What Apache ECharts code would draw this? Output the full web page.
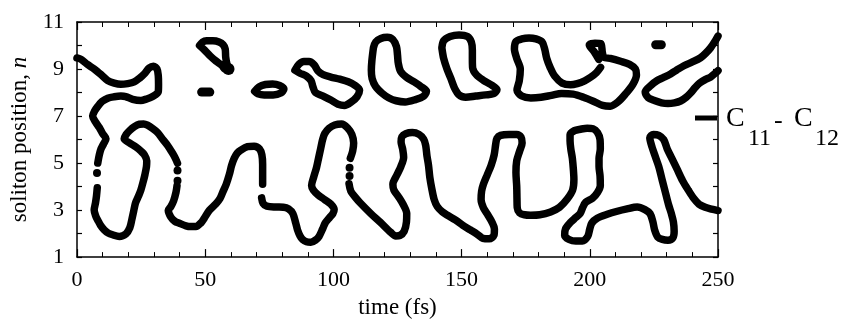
<!DOCTYPE html>
<html>
<head>
<meta charset="utf-8">
<script src="https://cdn.jsdelivr.net/npm/echarts@6/dist/echarts.min.js"></script>
<style>html,body{margin:0;padding:0;background:#fff}#c{width:842px;height:324px}</style>
</head>
<body>
<div id="c"></div>
<script>
// ---- data (time in fs, soliton position n) ----
const xTickLabels = [0, 50, 100, 150, 200, 250];
const yTickLabels = [1, 3, 5, 7, 9, 11];
const seriesName = 'C11 - C12';

// long continuous contour (null = gap)
const mainCurve = [
[0,9.47],[1.6,9.41],[4,9.2],[6.7,9.0],[9.5,8.75],[12,8.51],[14.5,8.4],[17.1,8.35],[19.8,8.38],[22.3,8.45],[24.5,8.62],[26.2,8.79],[28.2,9.05],[29.8,9.12],[31.2,9.0],[31.7,8.72],[31.8,8.35],[31.7,8.03],[29.5,7.83],[27,7.72],[24.9,7.66],[21.7,7.71],[19,7.83],[17.1,7.85],[14.5,7.82],[12,7.76],[9.8,7.62],[8.1,7.41],[6.8,7.2],[6.1,7.0],[7.2,6.75],[8.7,6.51],[10,6.25],[11.3,6.03],[10.3,5.8],[9.4,5.61],[8.7,5.35],[8.1,5.0],
null,
[7.9,3.95],[7.6,3.6],[7.2,3.3],[6.7,3.0],[7.3,2.75],[8.1,2.57],[9.2,2.35],[10.6,2.16],[12.2,2.02],[13.9,1.95],[16.5,1.88],[19.1,1.99],[20.6,2.25],[21.4,2.6],[22.1,2.95],[22.8,3.3],[24.0,3.6],[24.9,3.85],[25.8,4.2],[26.5,4.51],[27.1,4.85],[27.2,5.1],[26.3,5.35],[25.0,5.5],[23,5.68],[20.6,5.85],[18.4,6.03],[19.2,6.22],[20.5,6.38],[22.4,6.55],[24.3,6.65],[26,6.66],[27.5,6.61],[29.5,6.47],[31.4,6.3],[33.5,6.0],[35.3,5.75],[36.8,5.5],[37.9,5.3],[38.8,5.1],[39.2,4.99],
null,
[39.0,4.03],[38.6,3.75],[37.7,3.40],[36.6,3.15],[35.6,2.99],[36.6,2.7],[38.2,2.52],[39.9,2.44],[42.5,2.33],[44.4,2.3],[46.4,2.3],[48.3,2.45],[49.6,2.65],[51.6,2.99],[54.2,3.27],[55.8,3.5],[56.8,3.75],[58.2,4.1],[59.4,4.51],[60.3,4.9],[61.3,5.2],[62.5,5.42],[63.9,5.55],[66.5,5.7],[69.1,5.72],[71.2,5.6],[72.1,5.35],[72.4,4.95],[72.4,4.5],[72.4,4.1],
null,
[72.0,3.52],[72.6,3.28],[74,3.17],[77.5,3.13],[80.5,3.12],[82.5,3.05],[84.2,2.85],[85.3,2.45],[86,2.16],[87,1.9],[88,1.75],[89.5,1.65],[91.2,1.63],[93,1.72],[94.4,1.88],[95.8,2.2],[96.8,2.45],[98.5,2.68],[99.8,2.85],[100.3,3.02],[99,3.25],[96.5,3.45],[94,3.65],[92.2,3.85],[91.5,4.05],[92.3,4.4],[93.4,4.8],[94.2,5.2],[95,5.6],[95.8,6.0],[96.6,6.25],[98.3,6.48],[100.5,6.62],[103.2,6.66],[105.5,6.5],[107.2,6.22],[107.9,5.85],[107.5,5.5],[106.6,5.2],
null,
[106.1,4.12],[106.8,3.8],[108.5,3.55],[110.5,3.3],[114.6,2.85],[118.3,2.48],[122.4,2.05],[124.3,1.9],[125.9,1.92],[127.6,2.1],[128.5,2.5],[128.6,2.85],[127.4,3.2],[125.5,3.55],[123.6,3.85],[123.2,4.1],[124.8,4.5],[126.3,4.85],[127.4,5.25],[127,5.6],[126.4,5.9],[126.7,6.12],[128.2,6.25],[130.8,6.3],[133.4,6.22],[135.2,6.02],[136,5.75],[136.5,5.3],[137.1,4.9],[137.6,4.4],[138.4,3.9],[139.3,3.45],[140.5,3.15],[142.5,2.92],[144.5,2.78],[147.7,2.57],[150.5,2.35],[153.5,2.15],[156,1.98],[158.3,1.8],[160.8,1.78],[162.6,1.92],[162.8,2.2],[161.8,2.5],[160.2,2.8],[158.5,3.1],[157.6,3.45],[157.8,3.8],[158.5,4.1],[160,4.5],[161.5,4.9],[162.7,5.35],[163.3,5.8],[163.8,6.05],[165.2,6.18],[168.5,6.22],[171.5,6.22],[173.2,6.1],[173.6,5.85],[172.6,5.5],[171.5,5.1],[171.2,4.6],[171.5,4.0],[171.6,3.5],[171.7,3.1],[172.6,2.88],[174.5,2.8],[176.9,2.78],[180.5,2.8],[184.7,2.92],[188.2,3.12],[191.2,3.47],[193.3,3.85],[193.8,4.3],[193.6,4.72],[193.2,5.2],[192.6,5.6],[192.3,5.95],[192.3,6.2],[194,6.38],[196.4,6.44],[199,6.48],[201.3,6.46],[203,6.3],[204,6.0],[204.1,5.6],[203.6,5.2],[203.6,4.85],[204,4.45],[204.1,4.05],[203,3.75],[201,3.5],[198.4,3.33],[197.2,3.1],[196.2,2.85],[194.5,2.68],[192.5,2.48],[190.5,2.2],[190.2,1.92],[191.9,1.75],[194.5,1.68],[197.1,1.68],[199.2,1.88],[200,2.2],[200.8,2.45],[202.9,2.65],[206.8,2.82],[210.7,2.95],[214.5,3.05],[218.5,3.13],[221.5,3.02],[223.5,2.85],[224.6,2.5],[225.3,2.15],[226.5,1.85],[228.3,1.75],[230.5,1.72],[232.4,1.82],[232.9,2.1],[232.6,2.5],[231.8,2.85],[230.8,3.2],[229.6,3.7],[228.3,4.25],[226.9,4.85],[225.3,5.35],[224,5.78],[223.4,6.08],[224.8,6.22],[226.9,6.18],[228.8,6.0],[230.2,5.6],[232,5.2],[234,4.75],[236.2,4.25],[238.4,3.85],[240.5,3.5],[242.6,3.25],[245,3.12],[247.5,3.04],[250,2.98]
];

const loopTriangle = [[47.8,10.0],[49,10.15],[50.5,10.2],[53,10.2],[55.4,10.15],[57,10.03],[57.8,9.85],[58,9.5],[58.5,9.2],[59.2,9.0],[58,8.98],[56.5,9.15],[54.2,9.34],[52,9.55],[49.8,9.8],[47.8,10.0]];
const blobSmall = [[48.6,8.02],[51.8,8.02]];
const loopEllipse = [[69.3,8.05],[71,8.24],[73.5,8.34],[76.3,8.36],[79,8.3],[80.7,8.15],[79.5,7.98],[76.5,7.9],[73,7.9],[70.5,7.95],[69.3,8.05]];
const loop2 = [[85,8.95],[86.5,9.2],[88.5,9.32],[90.5,9.32],[92.5,9.18],[94,8.92],[96,8.76],[99,8.66],[102.5,8.57],[105.8,8.46],[108.5,8.3],[110.2,8.1],[109.2,7.82],[107,7.6],[104.3,7.45],[101.8,7.5],[99,7.68],[96,7.85],[93,8.0],[92,8.25],[91.3,8.5],[89.5,8.7],[87,8.82],[85,8.95]];
const loop3 = [[115.6,9.9],[116.5,10.15],[118.5,10.3],[121,10.35],[123.2,10.25],[124.6,9.95],[125,9.6],[125.3,9.25],[126.2,8.9],[128.5,8.65],[131.5,8.45],[134.2,8.25],[136.3,8.05],[135,7.83],[132,7.7],[128,7.6],[124.5,7.65],[121.5,7.78],[119,7.97],[116.5,8.25],[115.1,8.6],[114.8,8.95],[115,9.35],[115.6,9.9]];
const loop4 = [[142.3,9.9],[143,10.2],[145.5,10.38],[149,10.45],[152.3,10.38],[153.8,10.15],[154.2,9.8],[154.2,9.45],[154.3,9.05],[155.8,8.75],[158.5,8.52],[161.5,8.33],[163.8,8.12],[162.5,7.95],[159.4,7.9],[155.5,7.85],[151.6,7.8],[149,7.9],[147.2,8.2],[145.8,8.6],[144.3,9.0],[143,9.45],[142.3,9.9]];
const loop5 = [[203.5,9.41],[201.8,9.72],[199.8,10.02],[202,10.1],[204.3,10.08],[204.9,9.7],[205.5,9.5],[208,9.45],[212,9.33],[215.5,9.2],[217.8,9.0],[218.2,8.75],[216.8,8.35],[214,7.95],[211,7.6],[208,7.42],[205,7.45],[201.6,7.62],[197.5,7.8],[193.5,7.93],[189,7.96],[185,7.88],[181,7.8],[177,7.77],[173.5,7.85],[171.6,8.1],[172.5,8.5],[172.9,9.0],[171.5,9.45],[170.6,9.85],[171.2,10.17],[173.5,10.28],[176.3,10.32],[179,10.28],[181.4,10.15],[182.4,9.85],[183.2,9.45],[184.6,9.05],[186.3,8.7],[189.2,8.4],[192.5,8.33],[195.1,8.38],[198,8.5],[200.3,8.65],[202.6,8.85],[204.2,9.07]];
const blobTop = [[225.7,10.03],[227.9,10.03]];
const loopRight = [[250,10.4],[249.2,10.25],[247.1,9.9],[245,9.65],[243.2,9.48],[240,9.3],[236.7,9.14],[233.8,8.95],[231.5,8.79],[228.8,8.64],[226.3,8.51],[223.8,8.3],[221.6,8.03],[222.8,7.78],[225.2,7.66],[228,7.56],[230.5,7.53],[233,7.56],[235.4,7.64],[237.6,7.8],[239.3,7.98],[241,8.2],[242.8,8.4],[245,8.55],[247.1,8.66],[249.2,8.85],[250,8.93]];
const dots = [[7.8,4.58],[39.2,4.68],[39.2,4.25],[106.3,4.8],[106.3,4.45]];
const bigDots = [[59.1,9.0]];

const FONT = '"Liberation Serif", "Times New Roman", serif';
const chart = echarts.init(document.getElementById('c'), null, {renderer: 'canvas'});

function curve(data, w) {
  return {
    type: 'line', data: data, showSymbol: false, symbol: 'none', smooth: 0.3,
    connectNulls: false, silent: true, animation: false, clip: true,
    lineStyle: {color: '#000', width: w || 7.5, cap: 'round', join: 'round'}
  };
}
const lineCurves = [mainCurve, loopTriangle, loopEllipse, loop2, loop3, loop4, loop5, loopRight];
const series = lineCurves.map(d => curve(d));
series[0].name = seriesName;
series.push(curve(blobSmall, 9));
series.push(curve(blobTop, 9));
series.push({type: 'scatter', data: dots, symbolSize: 8, itemStyle: {color: '#000', opacity: 1}, silent: true, animation: false});
series.push({type: 'scatter', data: bigDots, symbolSize: 12, itemStyle: {color: '#000', opacity: 1}, silent: true, animation: false});

const axisLine = {show: true, onZero: false, lineStyle: {color: '#000', width: 1.5}};
function xAx(pos, labels) {
  return {
    type: 'value', position: pos, min: 0, max: 250, interval: 50,
    axisLine: axisLine,
    axisTick: {show: true, inside: true, length: 8, lineStyle: {color: '#000', width: 1.2}},
    minorTick: {show: true, splitNumber: 5, length: 5, lineStyle: {color: '#000', width: 1}},
    splitLine: {show: false}, minorSplitLine: {show: false},
    axisLabel: {show: labels, margin: 12, fontSize: 22, fontFamily: FONT, color: '#000',
      formatter: v => xTickLabels.indexOf(v) >= 0 ? String(v) : ''},
    name: labels ? 'time (fs)' : '', nameLocation: 'middle', nameGap: 35,
    nameTextStyle: {fontSize: 23, fontFamily: FONT, color: '#000'}
  };
}
function yAx(pos, labels) {
  return {
    type: 'value', position: pos, min: 1, max: 11, interval: 1,
    axisLine: axisLine,
    axisTick: {show: true, inside: true, length: 5, lineStyle: {color: '#000', width: 1.2}},
    splitLine: {show: false},
    axisLabel: {show: labels, margin: 13, fontSize: 22, fontFamily: FONT, color: '#000',
      formatter: v => yTickLabels.indexOf(v) >= 0 ? String(v) : ''},
    name: labels ? '{a|soliton position, }{b|n}' : '', nameLocation: 'middle', nameGap: 46,
    nameTextStyle: {fontSize: 23, fontFamily: FONT, color: '#000',
      rich: {a: {fontSize: 23, fontFamily: FONT, color: '#000'},
             b: {fontSize: 23, fontFamily: FONT, color: '#000', fontStyle: 'italic'}}}
  };
}

chart.setOption({
  animation: false,
  backgroundColor: '#fff',
  grid: {left: 76, right: 124, top: 22, bottom: 61, containLabel: false},
  xAxis: [xAx('bottom', true), xAx('top', false)],
  yAxis: [yAx('left', true), yAx('right', false)],
  series: series,
  graphic: [
    {type: 'line', shape: {x1: 695, y1: 118, x2: 717, y2: 118}, style: {stroke: '#000', lineWidth: 5}, z: 100},
    {type: 'text', left: 726, top: 105, style: {text: 'C', font: '28px ' + FONT, fill: '#000'}},
    {type: 'text', left: 748, top: 127, style: {text: '11', font: '24px ' + FONT, fill: '#000'}},
    {type: 'text', left: 774, top: 108, style: {text: '-', font: '26px ' + FONT, fill: '#000'}},
    {type: 'text', left: 794, top: 105, style: {text: 'C', font: '28px ' + FONT, fill: '#000'}},
    {type: 'text', left: 815, top: 127, style: {text: '12', font: '24px ' + FONT, fill: '#000'}}
  ]
});
</script>
</body>
</html>
